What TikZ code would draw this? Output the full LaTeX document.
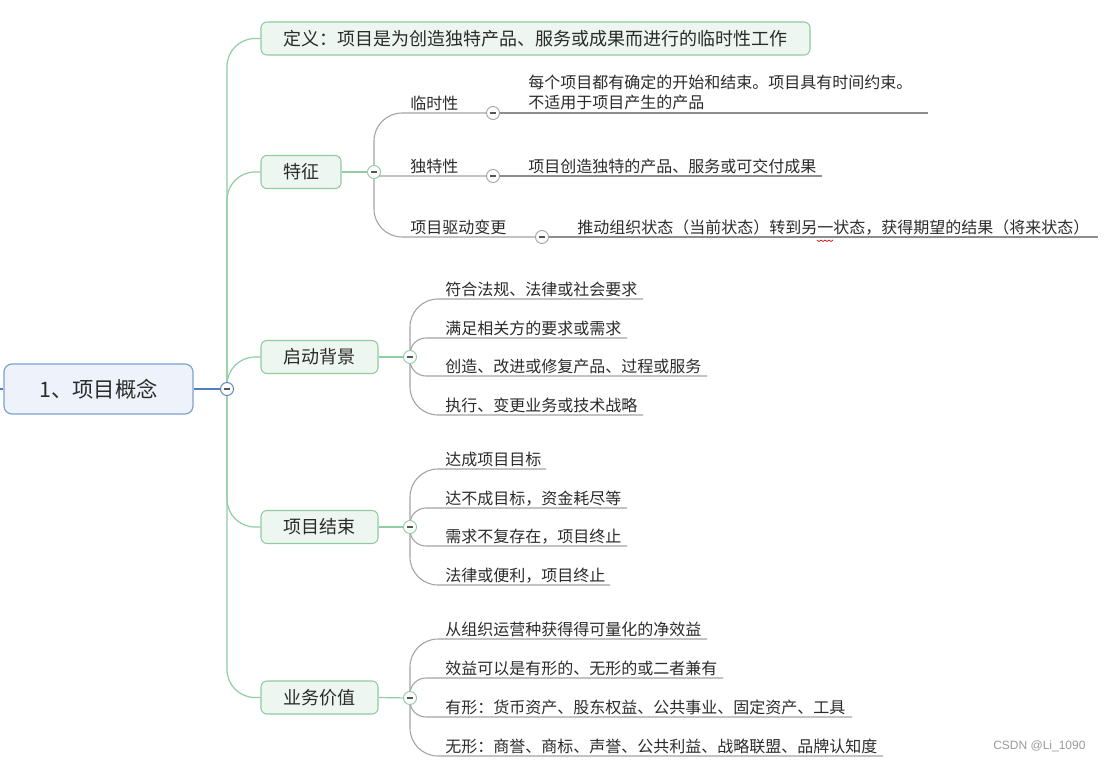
\documentclass[tikz,border=0pt]{standalone}
\usepackage{fontspec}
\setmainfont{Noto Sans CJK SC}
\newfontfamily\wmfont{Liberation Sans}
\usetikzlibrary{backgrounds}
\definecolor{rootfill}{HTML}{EEF3FB}
\definecolor{rootdraw}{HTML}{7DA2D2}
\definecolor{rootline}{HTML}{4F7EC0}
\definecolor{gfill}{HTML}{EEF6F1}
\definecolor{gdraw}{HTML}{8FCB9F}
\definecolor{gline}{HTML}{90CDA2}
\definecolor{grayline}{HTML}{A3A3A3}
\definecolor{ulgray}{HTML}{8E8E8E}
\definecolor{txt}{HTML}{2B2B2B}
\definecolor{wm}{HTML}{9A9A9A}
\begin{document}
\begin{tikzpicture}[x=0.75pt,y=-0.75pt,
 rootbox/.style={draw=rootdraw, fill=rootfill, line width=0.9pt, rounded corners=6pt, minimum width=141.75pt, minimum height=37.5pt, font=\fontsize{16}{19}\selectfont, text=txt, inner sep=0pt},
 topicbox/.style={draw=gdraw, fill=gfill, line width=0.8pt, rounded corners=4.5pt, minimum height=24.75pt, font=\fontsize{13.5}{16}\selectfont, text=txt, inner sep=0pt},
 lbl/.style={anchor=base west, inner sep=0pt, font=\fontsize{12}{15}\selectfont, text=txt},
 fold/.style={circle, draw=#1, fill=white, line width=0.7pt, minimum size=9.75pt, inner sep=0pt,
   path picture={\draw[line width=1.1pt, draw=txt!80] ([xshift=-2.2pt]path picture bounding box.center) -- ([xshift=2.2pt]path picture bounding box.center);}},
 trunk/.style={draw=gline, line width=0.9pt, rounded corners=21pt},
 branch/.style={draw=grayline, line width=0.8pt, rounded corners=#1},
 uline/.style={draw=ulgray, line width=0.8pt},
]
\begin{scope}[on background layer]
\fill[white] (0,0) rectangle (1105,760);
\end{scope}
\useasboundingbox (0,0) rectangle (1105,760);

% root
\node[rootbox] (root) at (98.5,389) {1、项目概念};
\node[fold=rootline] (cR) at (227,389) {};
\coordinate (stub) at (0,389);

% level 1
\node[topicbox, minimum width=411.75pt] (def) at (535.5,38.5) {定义：项目是为创造独特产品、服务或成果而进行的临时性工作};
\node[topicbox, minimum width=60pt] (feat) at (301,172) {特征};
\node[fold=gdraw] (cF) at (374,172) {};
\node[topicbox, minimum width=87.75pt] (bg) at (319.5,357) {启动背景};
\node[fold=gdraw] (cB) at (410,357) {};
\node[topicbox, minimum width=87.75pt] (fin) at (319.5,527) {项目结束};
\node[fold=gdraw] (cE) at (410,527) {};
\node[topicbox, minimum width=87.75pt] (val) at (319.5,697.5) {业务价值};
\node[fold=gdraw] (cV) at (410,698) {};

% features
\node[lbl] (t1) at (410,109) {临时性};
\node[fold=grayline] (ct1) at (493,113) {};
\node[lbl] (t2) at (410,172) {独特性};
\node[fold=grayline] (ct2) at (493,176) {};
\node[lbl] (t3) at (410,233) {项目驱动变更};
\node[fold=grayline] (ct3) at (542,237) {};

\node[lbl, anchor=south west, align=left] (l1) at (528,110) {每个项目都有确定的开始和结束。项目具有时间约束。\\不适用于项目产生的产品};
\coordinate (e1) at (928,113);
\node[lbl] (l2) at (528,172) {项目创造独特的产品、服务或可交付成果};
\coordinate (e2) at (822,176);
\node[lbl] (l3) at (577,233) {推动组织状态（当前状态）转到另一状态，获得期望的结果（将来状态）};
\coordinate (e3) at (1098,237);

% background
\node[lbl] (b1) at (445,295) {符合法规、法律或社会要求};
\coordinate (eb1) at (643,299);
\node[lbl] (b2) at (445,334) {满足相关方的要求或需求};
\coordinate (eb2) at (627,338);
\node[lbl] (b3) at (445,372) {创造、改进或修复产品、过程或服务};
\coordinate (eb3) at (707,376);
\node[lbl] (b4) at (445,411) {执行、变更业务或技术战略};
\coordinate (eb4) at (643,415);

% end
\node[lbl] (f1) at (445,465) {达成项目目标};
\coordinate (ef1) at (546,469);
\node[lbl] (f2) at (445,504) {达不成目标，资金耗尽等};
\coordinate (ef2) at (627,508);
\node[lbl] (f3) at (445,542) {需求不复存在，项目终止};
\coordinate (ef3) at (627,546);
\node[lbl] (f4) at (445,581) {法律或便利，项目终止};
\coordinate (ef4) at (610,585);

% value
\node[lbl] (v1) at (445,635) {从组织运营种获得得可量化的净效益};
\coordinate (ev1) at (707,639);
\node[lbl] (v2) at (445,674) {效益可以是有形的、无形的或二者兼有};
\coordinate (ev2) at (723,678);
\node[lbl] (v3) at (445,713) {有形：货币资产、股东权益、公共事业、固定资产、工具};
\coordinate (ev3) at (852,717);
\node[lbl] (v4) at (445,752) {无形：商誉、商标、声誉、公共利益、战略联盟、品牌认知度};
\coordinate (ev4) at (883,756);

% watermark
\node[anchor=base west, inner sep=0pt, text=wm, font=\wmfont\fontsize{9}{11}\selectfont] (wmk) at (993,749) {CSDN @Li\_1090};

% spelling squiggle
\draw[red!85!black, line width=0.5pt] (817,240) -- (819,241.5) -- (821,240) -- (823,241.5) -- (825,240) -- (827,241.5) -- (829,240) -- (831,241.5) -- (833,240);

\begin{scope}[on background layer]
\draw[draw=rootline, line width=0.9pt] (stub) -- (root.west);
\draw[draw=rootline, line width=0.9pt] (root.east) -- (cR.center);
\draw[trunk] (cR.center) |- (def.west);
\draw[trunk] (cR.center) |- (feat.west);
\draw[trunk] (cR.center) |- (bg.west);
\draw[trunk] (cR.center) |- (fin.west);
\draw[trunk] (cR.center) |- (val.west);
\draw[draw=gline, line width=0.9pt] (feat.east) -- (cF.center);
\draw[draw=gline, line width=0.9pt] (bg.east) -- (cB.center);
\draw[draw=gline, line width=0.9pt] (fin.east) -- (cE.center);
\draw[draw=gline, line width=0.9pt] (val.east) -- (cV.center);

\draw[branch=21pt] (cF.center) |- (ct1.center);
\draw[branch=3pt] (cF.center) |- (ct2.center);
\draw[branch=21pt] (cF.center) |- (ct3.center);
\draw[uline] (ct1.center) -- (e1);
\draw[uline] (ct2.center) -- (e2);
\draw[uline] (ct3.center) -- (e3);

\draw[branch=21pt] (cB.center) |- (eb1);
\draw[branch=12pt] (cB.center) |- (eb2);
\draw[branch=12pt] (cB.center) |- (eb3);
\draw[branch=21pt] (cB.center) |- (eb4);

\draw[branch=21pt] (cE.center) |- (ef1);
\draw[branch=12pt] (cE.center) |- (ef2);
\draw[branch=12pt] (cE.center) |- (ef3);
\draw[branch=21pt] (cE.center) |- (ef4);

\draw[branch=21pt] (cV.center) |- (ev1);
\draw[branch=12pt] (cV.center) |- (ev2);
\draw[branch=12pt] (cV.center) |- (ev3);
\draw[branch=21pt] (cV.center) |- (ev4);
\end{scope}
\end{tikzpicture}
\end{document}
